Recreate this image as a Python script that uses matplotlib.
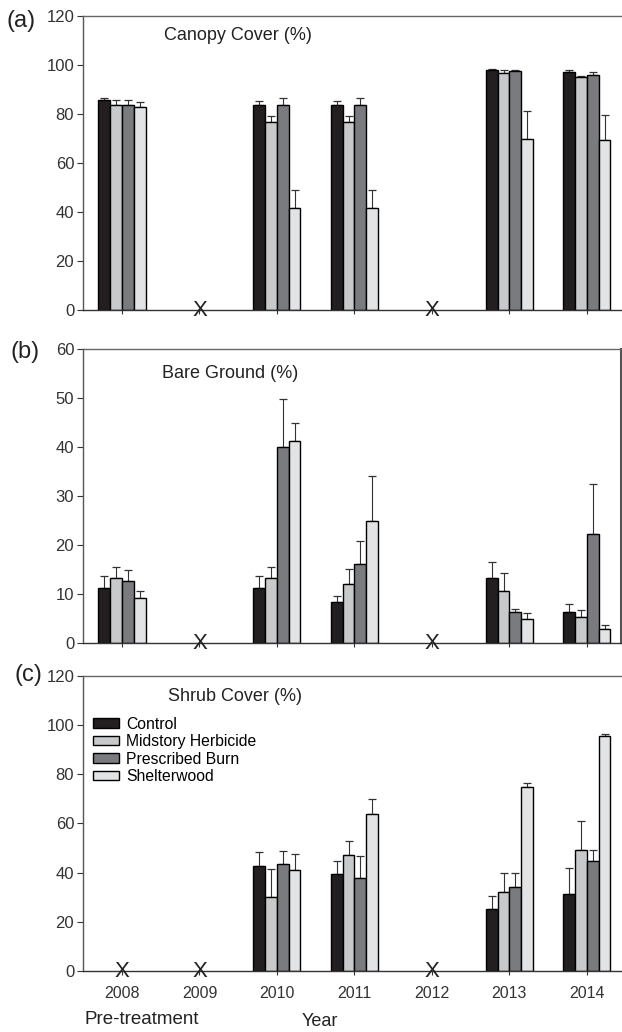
import numpy as np
import matplotlib
matplotlib.use("Agg")
import matplotlib.pyplot as plt
from matplotlib.patches import Patch

plt.rcParams["font.family"] = ["Liberation Sans", "DejaVu Sans"]

years = [2008, 2009, 2010, 2011, 2012, 2013, 2014]
treatments = ["Control", "Midstory Herbicide", "Prescribed Burn", "Shelterwood"]
nan = np.nan

# canopy cover (%) - mean and upper error, per treatment
canopy_control = [85.8, nan, 83.8, 83.8, nan, 98.1, 97.1]
canopy_midstory = [83.7, nan, 76.6, 76.6, nan, 96.9, 95.0]
canopy_burn = [83.7, nan, 83.7, 83.7, nan, 97.5, 95.9]
canopy_shelter = [82.8, nan, 41.6, 41.6, nan, 69.7, 69.2]
canopy_control_err = [0.8, nan, 1.5, 1.5, nan, 0.4, 1.0]
canopy_midstory_err = [2.0, nan, 2.5, 2.5, nan, 0.9, 0.7]
canopy_burn_err = [2.0, nan, 2.7, 2.7, nan, 0.4, 1.1]
canopy_shelter_err = [2.2, nan, 7.2, 7.2, nan, 11.4, 10.5]

# bare ground (%)
bare_control = [11.2, nan, 11.2, 8.3, nan, 13.2, 6.3]
bare_midstory = [13.3, nan, 13.3, 12.1, nan, 10.7, 5.3]
bare_burn = [12.6, nan, 40.1, 16.1, nan, 6.3, 22.2]
bare_shelter = [9.2, nan, 41.2, 25.0, nan, 4.9, 2.9]
bare_control_err = [2.5, nan, 2.5, 1.2, nan, 3.3, 1.6]
bare_midstory_err = [2.2, nan, 2.2, 3.0, nan, 3.6, 1.4]
bare_burn_err = [2.4, nan, 9.8, 4.7, nan, 0.7, 10.2]
bare_shelter_err = [1.5, nan, 3.8, 9.1, nan, 1.2, 0.8]

# shrub cover (%)
shrub_control = [nan, nan, 42.7, 39.4, nan, 25.1, 31.5]
shrub_midstory = [nan, nan, 29.9, 47.1, nan, 32.3, 49.2]
shrub_burn = [nan, nan, 43.5, 37.8, nan, 34.0, 44.6]
shrub_shelter = [nan, nan, 40.9, 63.7, nan, 75.0, 95.4]
shrub_control_err = [nan, nan, 5.5, 5.2, nan, 5.6, 10.2]
shrub_midstory_err = [nan, nan, 11.4, 5.9, nan, 7.4, 11.8]
shrub_burn_err = [nan, nan, 5.4, 9.1, nan, 5.7, 4.6]
shrub_shelter_err = [nan, nan, 6.8, 6.1, nan, 1.6, 0.9]

colors = ["#231f20", "#c8c9cb", "#7a7b7f", "#e2e3e5"]

panels = [
    ("(a)", "Canopy Cover (%)", 120, [0, 20, 40, 60, 80, 100, 120],
     [canopy_control, canopy_midstory, canopy_burn, canopy_shelter],
     [canopy_control_err, canopy_midstory_err, canopy_burn_err, canopy_shelter_err]),
    ("(b)", "Bare Ground (%)", 60, [0, 10, 20, 30, 40, 50, 60],
     [bare_control, bare_midstory, bare_burn, bare_shelter],
     [bare_control_err, bare_midstory_err, bare_burn_err, bare_shelter_err]),
    ("(c)", "Shrub Cover (%)", 120, [0, 20, 40, 60, 80, 100, 120],
     [shrub_control, shrub_midstory, shrub_burn, shrub_shelter],
     [shrub_control_err, shrub_midstory_err, shrub_burn_err, shrub_shelter_err]),
]

# axes boxes in figure fractions [left, bottom, width, height]
boxes = [[0.1334, 0.6996, 0.865, 0.2849],
         [0.1334, 0.3769, 0.865, 0.2849],
         [0.1334, 0.0591, 0.865, 0.2859]]
label_pos = [(21, 21), (25, 352), (28, 675)]
title_pos = [(0.150, 0.932), (0.147, 0.918), (0.158, 0.929)]

fig = plt.figure(figsize=(6.22, 10.32), dpi=100)
x = np.array(years, dtype=float)
w = 0.152

for i, (plabel, title, ymax, yticks, series, errs) in enumerate(panels):
    ax = fig.add_axes(boxes[i])
    for j in range(4):
        vals = np.array(series[j])
        err = np.array(errs[j])
        xpos = x + (j - 1.5) * w
        ax.bar(xpos, vals, width=w, color=colors[j], edgecolor="black",
               linewidth=1.0, zorder=2)
        ax.errorbar(xpos, vals, yerr=[np.zeros_like(err), err], fmt="none",
                    ecolor="#333333", elinewidth=0.8, capsize=2.6,
                    capthick=0.9, zorder=1)

    # X where there is no data for that year
    all_vals = np.array(series)
    for k, yr in enumerate(years):
        if np.all(np.isnan(all_vals[:, k])):
            ax.text(yr, 0, "X", ha="center", va="center", fontsize=16,
                    color="#222222", zorder=5, clip_on=False)

    ax.set_xlim(2007.497, 2014.44)
    ax.set_ylim(0, ymax)
    ax.set_yticks(yticks)
    ax.set_xticks(years)
    ax.tick_params(axis="y", direction="out", length=4.3, width=0.8,
                   pad=2, labelsize=12, colors="#333333")
    ax.tick_params(axis="x", direction="out", length=3, width=0.8,
                   pad=7.5, labelsize=11.5, colors="#333333")
    if i < 2:
        ax.set_xticklabels([])

    for side in ["left", "top", "bottom", "right"]:
        ax.spines[side].set_linewidth(1.0)
    ax.spines["left"].set_color("#555555")
    ax.spines["top"].set_color("#666666")
    ax.spines["bottom"].set_color("#333333")
    ax.spines["right"].set_color("#555555")
    ax.spines["right"].set_linewidth(1.5)
    if i != 1:
        ax.spines["right"].set_visible(False)

    ax.text(title_pos[i][0], title_pos[i][1], title, transform=ax.transAxes,
            ha="left", va="center", fontsize=13, color="#222222")
    fig.text(label_pos[i][0] / 622, 1 - label_pos[i][1] / 1032, plabel,
             ha="center", va="center", fontsize=17, color="#222222")

    if i == 2:
        handles = [Patch(facecolor=c, edgecolor="black", linewidth=1.0)
                   for c in colors]
        ax.legend(handles, treatments, loc="upper left",
                  bbox_to_anchor=(0.0186, 0.862), frameon=False,
                  fontsize=11.3, handlelength=1.65, handleheight=0.55,
                  handletextpad=0.45, labelspacing=0.16, borderpad=0,
                  borderaxespad=0)

fig.text(142 / 622, 1 - 1019 / 1032, "Pre-treatment", ha="center",
         va="center", fontsize=13.5, color="#222222")
fig.text(320 / 622, 1 - 1022 / 1032, "Year", ha="center", va="center",
         fontsize=13, color="#222222")

fig.savefig("out.png", dpi=100)
